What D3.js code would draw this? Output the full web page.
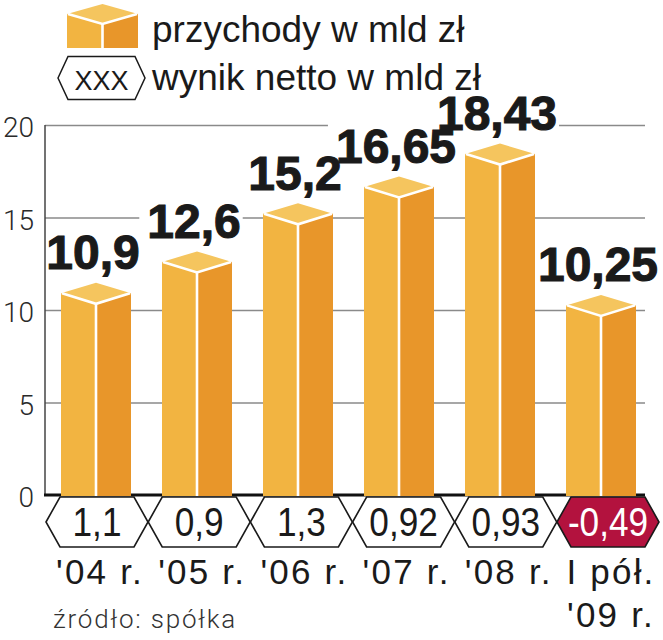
<!DOCTYPE html>
<html><head><meta charset="utf-8">
<script src="https://cdn.jsdelivr.net/npm/d3@7/dist/d3.min.js"></script>
<style>body{margin:0;background:#fff}svg{display:block}</style>
</head><body><svg id="c" width="663" height="640"></svg>
<script>
// ---- data ----
const categories = ["'04 r.", "'05 r.", "'06 r.", "'07 r.", "'08 r.", "I pół.|'09 r."];
const revenue = [10.9, 12.6, 15.2, 16.65, 18.43, 10.25];
const netResult = [1.1, 0.9, 1.3, 0.92, 0.93, -0.49];
const yTicks = [0, 5, 10, 15, 20];
const legendLabels = ["przychody w mld zł", "wynik netto w mld zł"];
const legendHexText = "XXX";
const sourceText = "źródło: spółka";

// ---- style ----
const C = {front: "#f2b441", side: "#e8962a", top: "#f5c55e", neg: "#b3123e", ink: "#1a1a1a", grid: "#8a8a8a"};
const fmt = v => String(v).replace(".", ",");

const svg = d3.select("#c");
const y = d3.scaleLinear().domain([0, 20]).range([495, 125]);
const x = d3.scaleBand().domain(categories).range([45.5, 651.5]).paddingInner(0.307).paddingOuter(0.1535);
const hx = d3.scalePoint().domain(categories).range([97, 608]);

// grid + tick labels via axis
const axis = d3.axisLeft(y).tickValues(yTicks).tickSize(-600).tickPadding(11).tickFormat(d => d);
const ag = svg.append("g").attr("transform", "translate(45,0)").call(axis);
ag.select(".domain").remove();
ag.selectAll(".tick line").attr("stroke", C.grid).attr("stroke-width", 1.5)
  .attr("opacity", d => d === 0 ? 0 : 1);
ag.selectAll(".tick text").attr("font-family", "Roboto, 'Liberation Sans', sans-serif")
  .attr("font-weight", 300).attr("font-size", 28).attr("fill", "#2a2a2a").attr("dy", "0.42em");

// layers
const knock = svg.append("g");
const axisLines = svg.append("g");
const bars = svg.append("g");
const lab = svg.append("g");

// y axis vertical line
axisLines.append("line").attr("x1", 45).attr("x2", 45).attr("y1", y(20)).attr("y2", y(0))
  .attr("stroke", "#444").attr("stroke-width", 1.5);
// baseline
axisLines.append("line").attr("x1", 44).attr("x2", 645).attr("y1", y(0)).attr("y2", y(0))
  .attr("stroke", "#111").attr("stroke-width", 3);

// 3D box
function box(g, x0, w, yt, yb, d) {
  const xm = x0 + w / 2;
  g.append("polygon").attr("fill", C.front)
    .attr("points", [[x0, yt], [xm, yt + d], [xm, yb], [x0, yb]].join(" "));
  g.append("polygon").attr("fill", C.side)
    .attr("points", [[xm, yt + d], [x0 + w, yt], [x0 + w, yb], [xm, yb]].join(" "));
  g.append("polygon").attr("fill", C.top)
    .attr("points", [[x0, yt], [xm, yt - d], [x0 + w, yt], [xm, yt + d]].join(" "));
  g.append("polyline").attr("fill", "none").attr("stroke", "#fff").attr("stroke-width", 2.6)
    .attr("stroke-linejoin", "miter")
    .attr("points", [[x0 + 1, yt], [xm, yt + d], [x0 + w - 1, yt]].join(" "));
  g.append("line").attr("stroke", "#fff").attr("stroke-width", 2.6)
    .attr("x1", xm).attr("x2", xm).attr("y1", yt + d).attr("y2", yb);
}

categories.forEach((c, i) => {
  box(bars.append("g"), x(c), x.bandwidth(), y(revenue[i]), y(0) + 1, 10.5);
});

// value labels; white knockout of gridlines placed under the bars
categories.forEach((c, i) => {
  const t = lab.append("text").attr("x", x(c) + x.bandwidth() / 2 - 3).attr("y", y(revenue[i]) - 24)
    .attr("text-anchor", "middle").attr("font-family", "'Liberation Sans', Arial, sans-serif")
    .attr("font-weight", 700).attr("font-size", 48).attr("fill", C.ink)
    .attr("stroke", C.ink).attr("stroke-width", 1.1).text(fmt(revenue[i]));
  const b = t.node().getBBox();
  knock.append("rect").attr("x", b.x - 8).attr("y", b.y + 4).attr("width", b.width + 10)
    .attr("height", b.height - 4).attr("fill", "#fff");
});

// hexagons
function hexPts(cx, cy, hw, hh, s) {
  return [[cx - hw, cy], [cx - hw + s, cy - hh], [cx + hw - s, cy - hh], [cx + hw, cy],
          [cx + hw - s, cy + hh], [cx - hw + s, cy + hh]].join(" ");
}
const hg = svg.append("g");
categories.forEach((c, i) => {
  const neg = netResult[i] < 0;
  hg.append("polygon").attr("points", hexPts(hx(c), 522, 51, 25, 14))
    .attr("fill", neg ? C.neg : "#fff").attr("stroke", C.ink).attr("stroke-width", 1.6)
    .attr("stroke-linejoin", "miter");
  hg.append("text").attr("transform", `translate(${hx(c)},536) scale(0.88,1)`)
    .attr("text-anchor", "middle")
    .attr("font-family", "'Liberation Sans', Arial, sans-serif").attr("font-size", 40)
    .attr("fill", neg ? "#fff" : C.ink).text(fmt(netResult[i]));
});

// category labels
const xl = svg.append("g");
categories.forEach((c, i) => {
  c.split("|").forEach((line, j) => {
    xl.append("text").attr("x", hx(c) + 3).attr("y", 584 + j * 43).attr("text-anchor", "middle")
      .attr("font-family", "'Liberation Sans', Arial, sans-serif").attr("font-size", 35)
      .attr("letter-spacing", 2.2).attr("fill", C.ink).text(line);
  });
});

// legend
const lg = svg.append("g");
box(lg.append("g"), 67, 71, 14, 48, 10);
lg.append("polygon").attr("points", hexPts(101.5, 78, 43.5, 21.5, 10))
  .attr("fill", "#fff").attr("stroke", C.ink).attr("stroke-width", 1.5);
lg.append("text").attr("x", 101.5).attr("y", 90).attr("text-anchor", "middle")
  .attr("font-family", "'Liberation Sans', Arial, sans-serif").attr("font-size", 27)
  .attr("fill", C.ink).text(legendHexText);
legendLabels.forEach((t, i) => {
  lg.append("text").attr("x", 152).attr("y", 42 + i * 48)
    .attr("font-family", "'Liberation Sans', Arial, sans-serif").attr("font-size", 37)
    .attr("fill", C.ink).text(t);
});

// source
svg.append("text").attr("x", 53).attr("y", 628)
  .attr("font-family", "Roboto, 'Liberation Sans', sans-serif").attr("font-weight", 300)
  .attr("font-size", 26).attr("letter-spacing", 1.8).attr("fill", "#333").text(sourceText);
</script></body></html>
